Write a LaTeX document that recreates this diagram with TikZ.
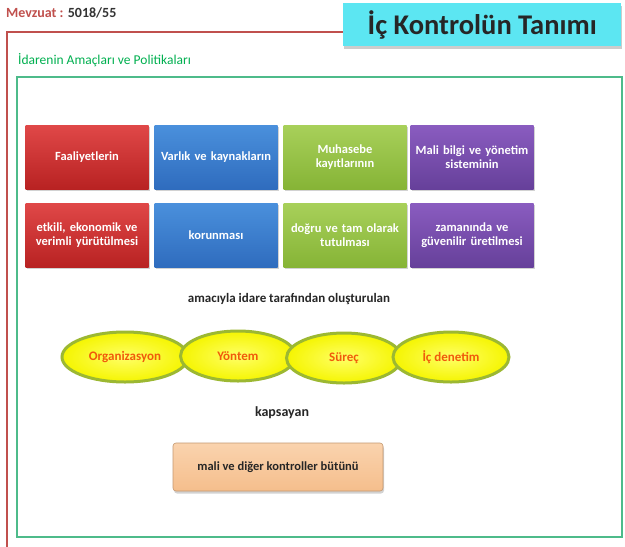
\documentclass[tikz,border=0pt]{standalone}
\usepackage{fontspec}
\setmainfont{Carlito}
\usetikzlibrary{shadows,shapes.geometric}
\definecolor{redline}{HTML}{C0504D}
\definecolor{grline}{HTML}{4DBB8A}
\definecolor{grtext}{HTML}{00B050}
\definecolor{titlebg}{HTML}{5CE6F2}
\definecolor{rtop}{HTML}{E04848}\definecolor{rbot}{HTML}{B82222}
\definecolor{btop}{HTML}{4A90DC}\definecolor{bbot}{HTML}{2F6CBE}
\definecolor{gtop}{HTML}{A8D05A}\definecolor{gbot}{HTML}{86B436}
\definecolor{ptop}{HTML}{8A5CC0}\definecolor{pbot}{HTML}{66409A}
\definecolor{elltext}{HTML}{F05A0A}
\definecolor{ellbord}{HTML}{9CB832}
\definecolor{peach}{HTML}{FAD3AE}\definecolor{peachb}{HTML}{F5BE8C}
\tikzset{
  x=1pt,y=-1pt,
  cbox/.style={minimum width=123pt,minimum height=64pt,align=center,text=white,
    font=\bfseries\fontsize{12.5}{14.5}\selectfont,inner sep=2pt,text width=117pt,
    drop shadow={shadow xshift=1.5pt,shadow yshift=-2pt,opacity=0.35}},
  redb/.style={cbox,top color=rtop,bottom color=rbot},
  blueb/.style={cbox,top color=btop,bottom color=bbot},
  greenb/.style={cbox,top color=gtop,bottom color=gbot},
  purpb/.style={cbox,top color=ptop,bottom color=pbot},
  oval/.style={ellipse,minimum height=50pt,line width=3pt,draw=ellbord,
    inner color=yellow!60!white,outer color=yellow!92!olive,
    text=elltext,font=\bfseries\fontsize{13}{15}\selectfont},
  lbl/.style={font=\bfseries\fontsize{13}{15}\selectfont,text=black!85}
}
\begin{document}
\begin{tikzpicture}
\useasboundingbox (0,0) rectangle (625,547);
\fill[white] (0,0) rectangle (625,547);
% red frame
\draw[redline,line width=2pt] (345,32) -- (7,32) -- (7,547);
% title
\node[fill=titlebg,minimum width=278pt,minimum height=43pt,anchor=north west,
  drop shadow={shadow xshift=1pt,shadow yshift=-2.5pt,opacity=0.4},
  font=\bfseries\fontsize{28.5}{31}\selectfont,text=black!85] (title) at (343,3) {İç Kontrolün Tanımı};
\node[anchor=west,font=\bfseries\fontsize{14}{16}\selectfont,inner sep=0] (mev) at (6,13)
  {\textcolor{redline}{Mevzuat :} \textcolor{black!80}{5018/55}};
% green frame
\node[anchor=west,text=grtext,font=\fontsize{13.5}{15}\selectfont,inner sep=0] (ida) at (18,60)
  {İdarenin Amaçları ve Politikaları};
\draw[grline,line width=2pt] (17,77) rectangle (622,537);
% boxes
\node[redb] (a1) at (87,157) {Faaliyetlerin};
\node[blueb] (b1) at (216,157) {Varlık ve kaynakların};
\node[greenb] (c1) at (345,157) {Muhasebe\\kayıtlarının};
\node[purpb] (d1) at (472,157) {Mali bilgi ve yönetim\\sisteminin};
\node[redb] (a2) at (87,235) {etkili, ekonomik ve\\verimli yürütülmesi};
\node[blueb] (b2) at (216,235) {korunması};
\node[greenb] (c2) at (345,235) {doğru ve tam olarak\\tutulması};
\node[purpb] (d2) at (472,235) {zamanında ve\\güvenilir üretilmesi};
% middle text
\node[lbl] (amac) at (289,299) {amacıyla idare tarafından oluşturulan};
% ellipses
\node[oval,minimum width=126pt] (e1) at (125,357) {Organizasyon};
\node[oval,minimum width=115pt] (e2) at (238,356) {Yöntem};
\node[oval,minimum width=115pt] (e3) at (344,358) {Süreç};
\node[oval,minimum width=116pt] (e4) at (451,357) {İç denetim};
\node[lbl,font=\bfseries\fontsize{14}{16}\selectfont] (kap) at (282,413) {kapsayan};
\node[minimum width=210pt,minimum height=48pt,rounded corners=3pt,
  top color=peach,bottom color=peachb,draw=peachb!80!black,line width=0.6pt,
  drop shadow={shadow xshift=1pt,shadow yshift=-2.5pt,opacity=0.35},
  font=\bfseries\fontsize{12.5}{14}\selectfont,text=black!85] (mali) at (278,467) {mali ve diğer kontroller bütünü};
\end{tikzpicture}
\end{document}
